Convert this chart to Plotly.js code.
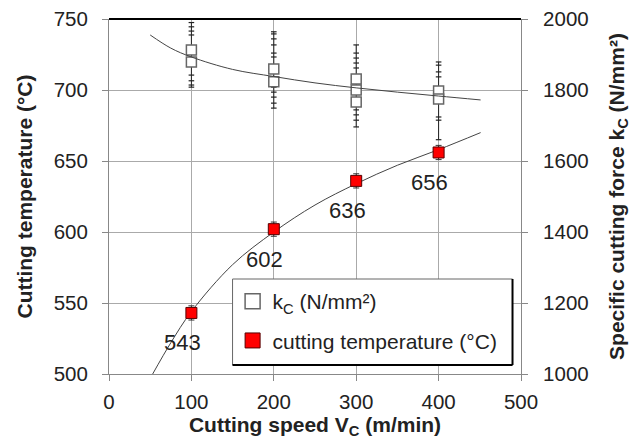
<!DOCTYPE html>
<html>
<head>
<meta charset="utf-8">
<script src="https://cdn.plot.ly/plotly-3.0.1.min.js"></script>
<style>html,body{margin:0;padding:0;background:#fff;}#chart{width:631px;height:439px;}</style>
</head>
<body>
<div id="chart"></div>
<script>
// ---- data ----
const speeds = [100, 200, 300, 400];
const tempValues = [543, 602, 636, 656];
const tempErr = [5, 5, 5, 5];

// hollow square markers of the specific cutting force (N/mm²)
const kcBoxX = [100, 100, 200, 200, 300, 300, 300, 400, 400];
const kcBoxY = [1913, 1879, 1859, 1823, 1831, 1800, 1766, 1797, 1775];

// individual kc measurements (small dashes along the whiskers)
const kcPoints100 = [1990, 1978, 1966, 1955, 1842, 1826, 1814, 1808];
const kcPoints200 = [1964, 1958, 1944, 1927, 1904, 1893, 1808, 1794, 1780, 1763, 1749];
const kcPoints300 = [1927, 1904, 1890, 1876, 1862, 1744, 1730, 1715, 1696];
const kcPoints400 = [1879, 1870, 1851, 1837, 1724, 1715, 1660];

// trend curves
const tempTrendX = [53, 75, 100, 150, 200, 250, 300, 350, 400, 451];
const tempTrendY = [500, 522, 544, 577, 600, 619, 634, 647, 658, 670];
const kcTrendX = [50, 75, 100, 150, 200, 250, 300, 350, 400, 451];
const kcTrendY = [1955, 1918, 1893, 1858, 1838, 1820, 1806, 1794, 1783, 1772];

const xTicks = [0, 100, 200, 300, 400, 500];
const yTicks = [500, 550, 600, 650, 700, 750];
const y2Ticks = [1000, 1200, 1400, 1600, 1800, 2000];

const kcName = 'k<sub>C</sub> (N/mm²)';
const tempName = 'cutting temperature (°C)';

// ---- build traces ----
const FONT = 'Liberation Sans, Arial, Helvetica, sans-serif';
const kcGroups = [kcPoints100, kcPoints200, kcPoints300, kcPoints400];

const whiskX = [], whiskY = [], ptsX = [], ptsY = [];
kcGroups.forEach((g, i) => {
  whiskX.push(speeds[i], speeds[i], null);
  whiskY.push(Math.max(...g), Math.min(...g), null);
  g.forEach(v => { ptsX.push(speeds[i]); ptsY.push(v); });
});

const kcMarker = {symbol: 'square', color: '#ffffff', line: {color: '#666', width: 1.5}};
const tempMarker = {symbol: 'square', color: '#ff0000', line: {color: '#550000', width: 1}};

const traces = [
  {
    x: whiskX, y: whiskY, yaxis: 'y2', type: 'scatter', mode: 'lines',
    line: {color: '#222', width: 1}, showlegend: false, hoverinfo: 'skip'
  },
  {
    x: ptsX, y: ptsY, yaxis: 'y2', type: 'scatter', mode: 'markers',
    marker: {symbol: 'line-ew', size: 4, line: {color: '#222', width: 1.2}},
    showlegend: false
  },
  {
    x: kcBoxX, y: kcBoxY, yaxis: 'y2', type: 'scatter', mode: 'markers',
    name: kcName, legendgroup: 'a', showlegend: false,
    marker: Object.assign({size: 10}, kcMarker)
  },
  {
    x: kcTrendX, y: kcTrendY, yaxis: 'y2', type: 'scatter', mode: 'lines',
    line: {color: '#444', width: 1, shape: 'spline', smoothing: 1}, showlegend: false
  },
  {
    x: tempTrendX, y: tempTrendY, type: 'scatter', mode: 'lines',
    line: {color: '#444', width: 1, shape: 'spline', smoothing: 1}, showlegend: false
  },
  {
    x: speeds, y: tempValues, type: 'scatter', mode: 'markers',
    error_y: {type: 'data', array: tempErr, visible: true, color: '#333', thickness: 1, width: 3},
    marker: {size: 1, color: 'rgba(0,0,0,0)'}, showlegend: false, hoverinfo: 'skip'
  },
  {
    x: speeds, y: tempValues, type: 'scatter', mode: 'markers',
    name: tempName, legendgroup: 'b', showlegend: false,
    marker: Object.assign({size: 11}, tempMarker)
  },
  // legend entries (larger symbols, as in the reference legend)
  {
    x: [null], y: [null], yaxis: 'y2', type: 'scatter', mode: 'markers',
    name: kcName, legendgroup: 'a', marker: Object.assign({size: 15}, kcMarker)
  },
  {
    x: [null], y: [null], type: 'scatter', mode: 'markers',
    name: tempName, legendgroup: 'b', marker: Object.assign({size: 15}, tempMarker)
  }
];

const annotations = speeds.map((s, i) => ({
  x: s, y: tempValues[i], xref: 'x', yref: 'y', text: String(tempValues[i]),
  showarrow: false, xshift: -9, yshift: -30,
  font: {family: FONT, size: 22, color: '#222'}
}));

const axisCommon = {
  showline: true, linecolor: '#888', linewidth: 1,
  ticks: 'outside', ticklen: 6, tickcolor: '#888', tickwidth: 1,
  tickfont: {family: FONT, size: 20.5, color: '#222'},
  zeroline: false
};

const layout = {
  width: 631, height: 439,
  margin: {l: 109, r: 110, t: 19, b: 65, pad: 0},
  paper_bgcolor: '#fff', plot_bgcolor: '#fff',
  font: {family: FONT, color: '#222'},
  xaxis: Object.assign({}, axisCommon, {
    range: [0, 500], tickvals: xTicks, showgrid: true, gridcolor: '#aaa', gridwidth: 1,
    ticklabelstandoff: 3,
    title: {text: 'Cutting speed V<sub>C</sub> (m/min)', standoff: 16,
      font: {family: FONT, size: 21, weight: 'bold', color: '#222'}}
  }),
  yaxis: Object.assign({}, axisCommon, {
    range: [500, 750], tickvals: yTicks, showgrid: true, gridcolor: '#aaa', gridwidth: 1,
    ticklabelstandoff: 10,
    title: {text: 'Cutting temperature (°C)', standoff: 15,
      font: {family: FONT, size: 21, weight: 'bold', color: '#222'}}
  }),
  yaxis2: Object.assign({}, axisCommon, {
    range: [1000, 2000], tickvals: y2Ticks, overlaying: 'y', side: 'right', showgrid: false,
    ticklabelstandoff: 11,
    title: {text: 'Specific cutting force k<sub>C</sub> (N/mm²)', standoff: 22,
      font: {family: FONT, size: 21, weight: 'bold', color: '#222'}}
  }),
  showlegend: true,
  legend: {
    x: 0.300, xanchor: 'left', y: 0.262, yanchor: 'top',
    bgcolor: 'rgba(0,0,0,0)', borderwidth: 0,
    traceorder: 'grouped', tracegroupgap: 9,
    font: {family: FONT, size: 21, color: '#222'}
  },
  shapes: [
    {type: 'line', xref: 'paper', yref: 'paper', x0: 0, x1: 1, y0: 1, y1: 1,
      line: {color: '#000', width: 2}},
    {type: 'rect', xref: 'paper', yref: 'paper', x0: 0.2999, x1: 0.9794, y0: 0.0254, y1: 0.2676,
      fillcolor: '#fff', line: {color: '#666', width: 1}, layer: 'above'},
    {type: 'line', xref: 'paper', yref: 'paper', x0: 0.9794, x1: 0.9794, y0: 0.0254, y1: 0.2676,
      line: {color: '#000', width: 2}, layer: 'above'},
    {type: 'line', xref: 'paper', yref: 'paper', x0: 0.2999, x1: 0.9794, y0: 0.0254, y1: 0.0254,
      line: {color: '#000', width: 2}, layer: 'above'}
  ],
  annotations: annotations
};

Plotly.newPlot('chart', traces, layout, {displayModeBar: false, staticPlot: true});
</script>
</body>
</html>
